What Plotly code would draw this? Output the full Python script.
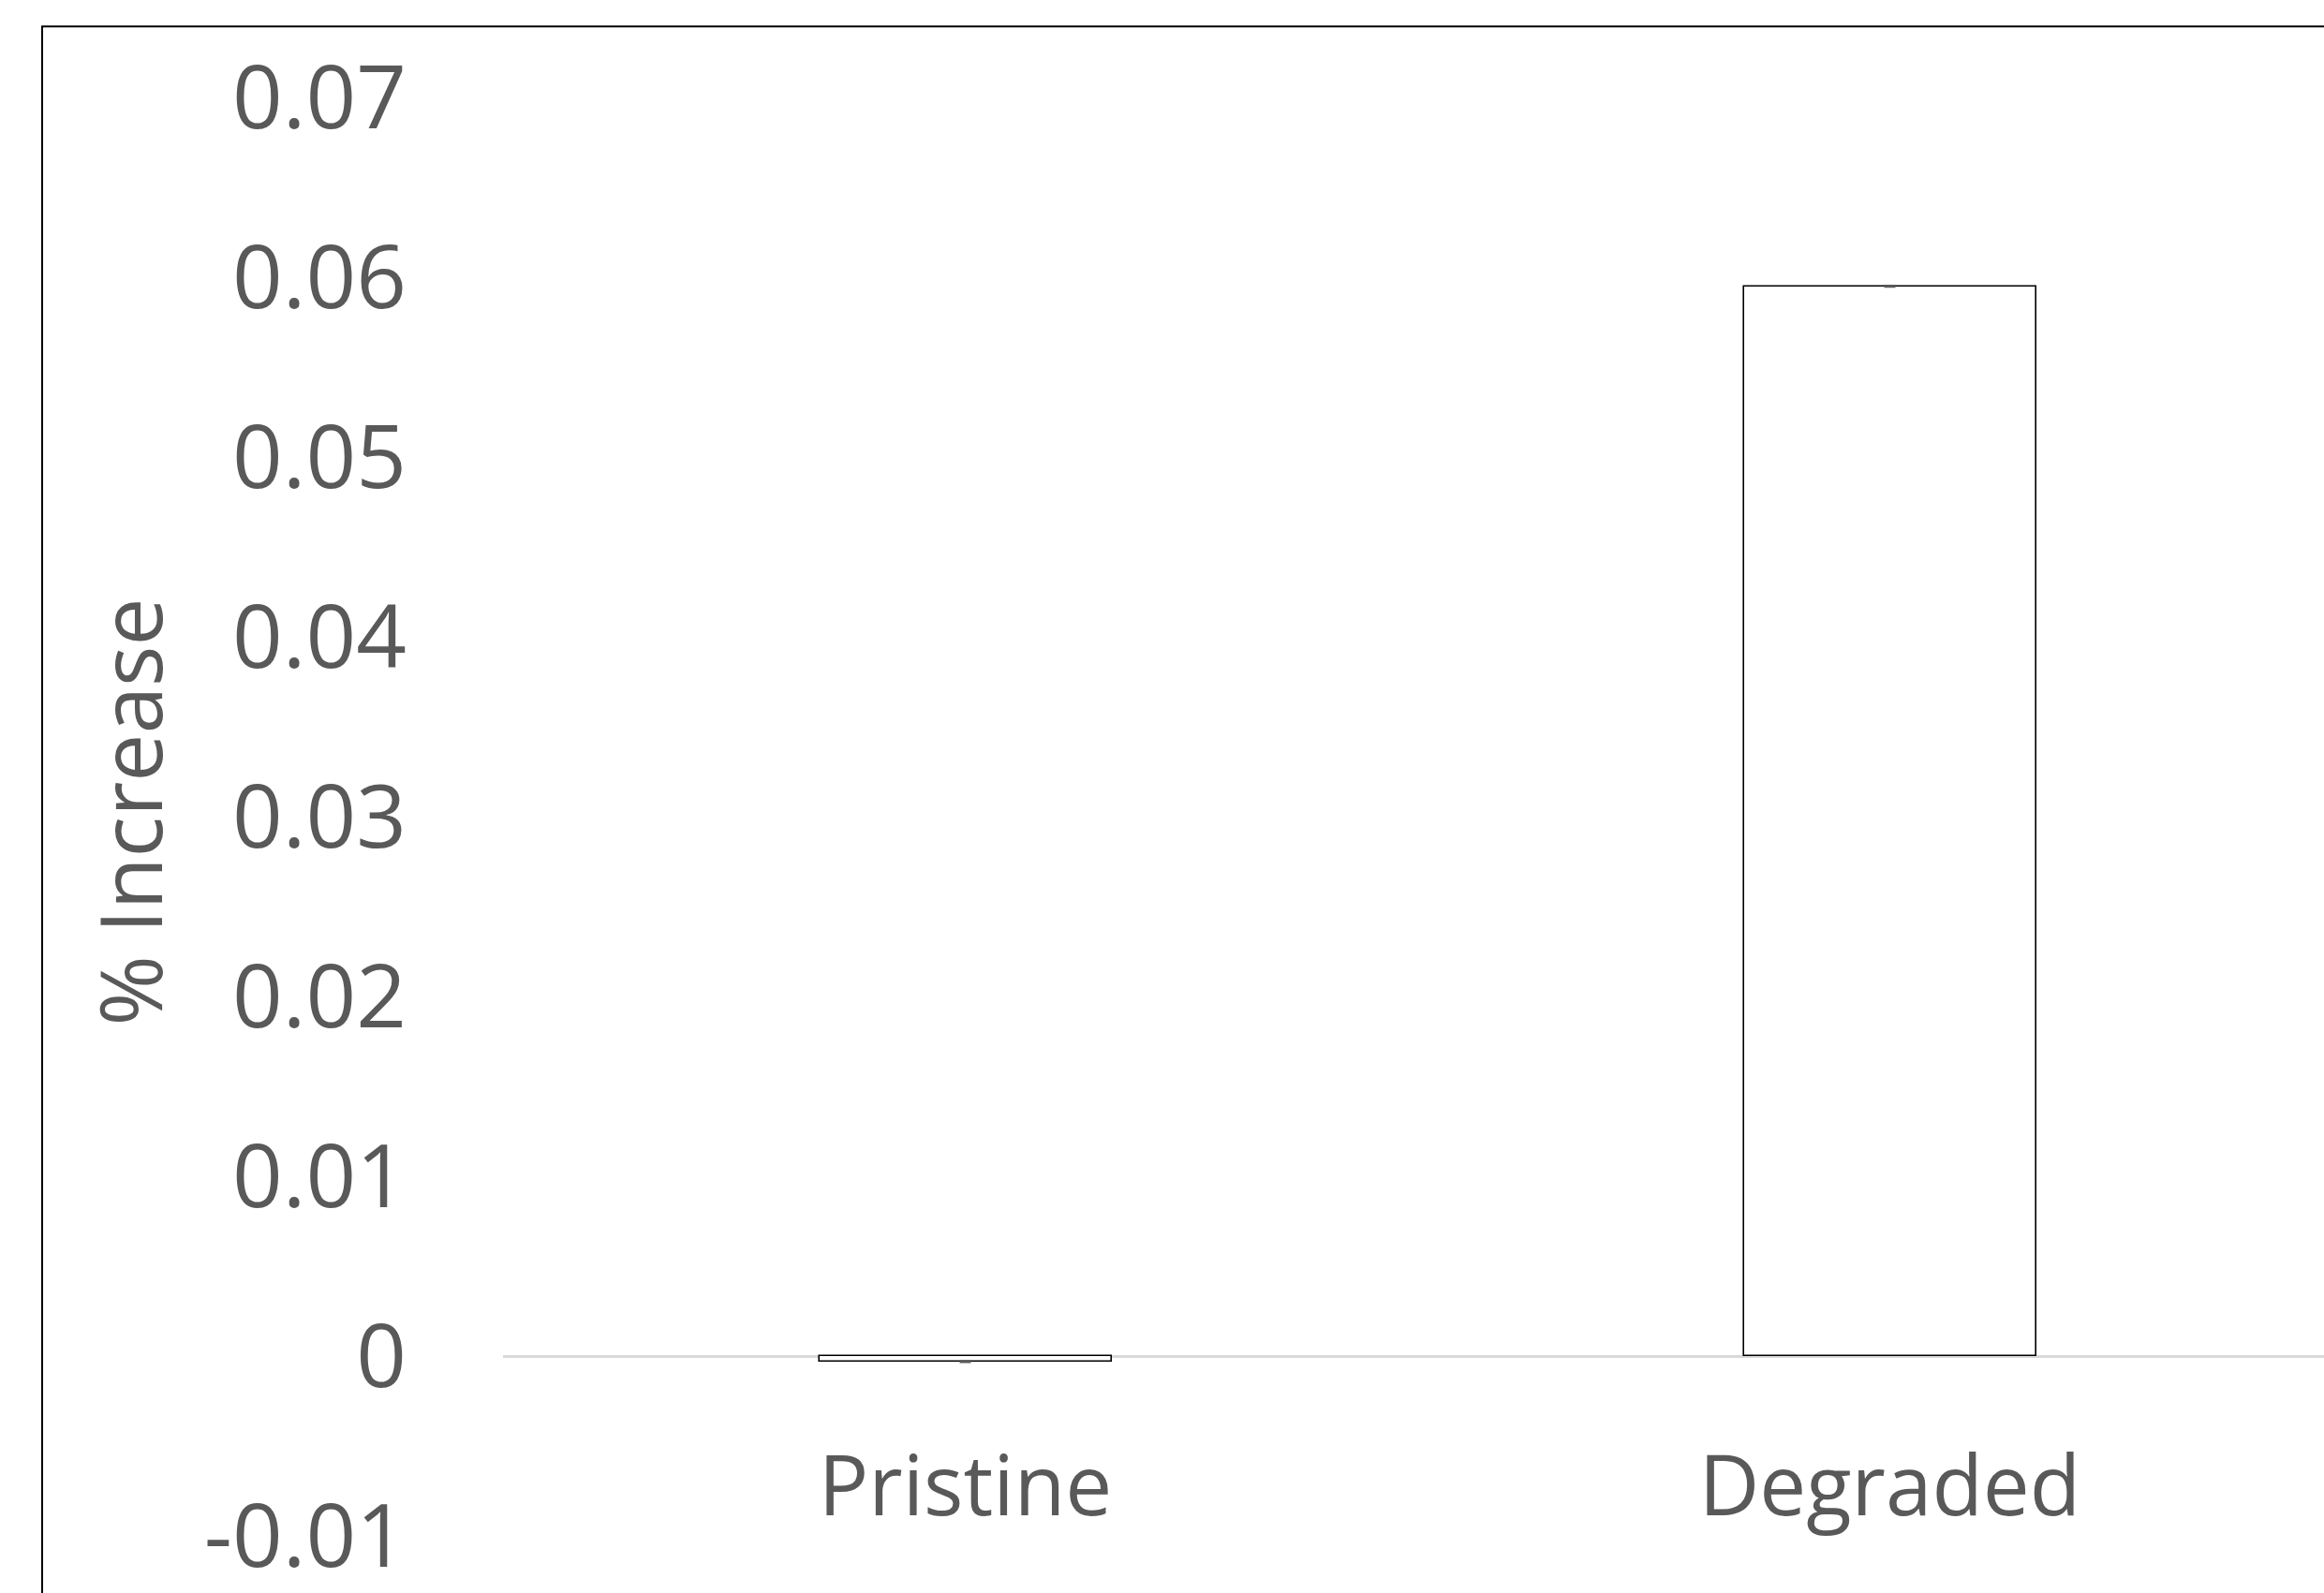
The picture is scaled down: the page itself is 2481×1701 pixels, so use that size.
import plotly.graph_objects as go

categories = ["Pristine", "Degraded"]
values = [-0.0003, 0.0595]
errors = [0.00002, 0.00002]
y_tick_vals = [-0.01, 0, 0.01, 0.02, 0.03, 0.04, 0.05, 0.06, 0.07]
y_tick_text = ["-0.01", "0", "0.01", "0.02", "0.03", "0.04", "0.05", "0.06", "0.07"]
y_title = "% Increase"

W, H = 2481, 1701
L, R, T, B = 537, 0, 104, 56
PW, PH = W - L - R, H - T - B
CAT_PX = 987.0


def xp(px):
    return (px - L) / PW


def yp(py):
    return (H - B - py) / PH


FONT = "Open Sans"
GREY = "#595959"

fig = go.Figure()
fig.add_trace(go.Bar(
    x=[0, 1],
    y=values,
    width=312 / CAT_PX,
    marker=dict(color="white", line=dict(color="black", width=1.6)),
    error_y=dict(type="data", array=errors, visible=True, color=GREY,
                 thickness=2.5, width=6),
    showlegend=False,
))

fig.update_layout(
    width=W, height=H,
    margin=dict(l=L, r=R, t=T, b=B, pad=0),
    paper_bgcolor="white", plot_bgcolor="white",
    bargap=0,
    xaxis=dict(
        range=[-0.5, -0.5 + PW / CAT_PX],
        tickvals=[0, 1], ticktext=categories,
        showgrid=False, zeroline=False, showline=False,
        ticks="", anchor="free", position=0.125,
        ticklabelstandoff=80,
        tickfont=dict(family=FONT, size=89, color=GREY),
    ),
    yaxis=dict(
        range=[-0.01, 0.07],
        tickvals=y_tick_vals, ticktext=y_tick_text,
        showgrid=False, showline=False, ticks="",
        zeroline=True, zerolinecolor="#D9D9D9", zerolinewidth=2.5,
        ticklabelstandoff=102, ticklabeloverflow="allow",
        tickfont=dict(family=FONT, size=94, color=GREY),
    ),
    annotations=[dict(
        text=y_title, textangle=-90, showarrow=False,
        xref="paper", yref="paper", x=xp(138), y=yp(870),
        xanchor="center", yanchor="middle",
        font=dict(family=FONT, size=91, color=GREY),
    )],
    shapes=[dict(
        type="rect", xref="paper", yref="paper",
        x0=xp(45), x1=xp(2600), y0=yp(1800), y1=yp(28),
        line=dict(color="black", width=2), fillcolor="rgba(0,0,0,0)",
        layer="above",
    )],
)

fig.write_html("out.html")
